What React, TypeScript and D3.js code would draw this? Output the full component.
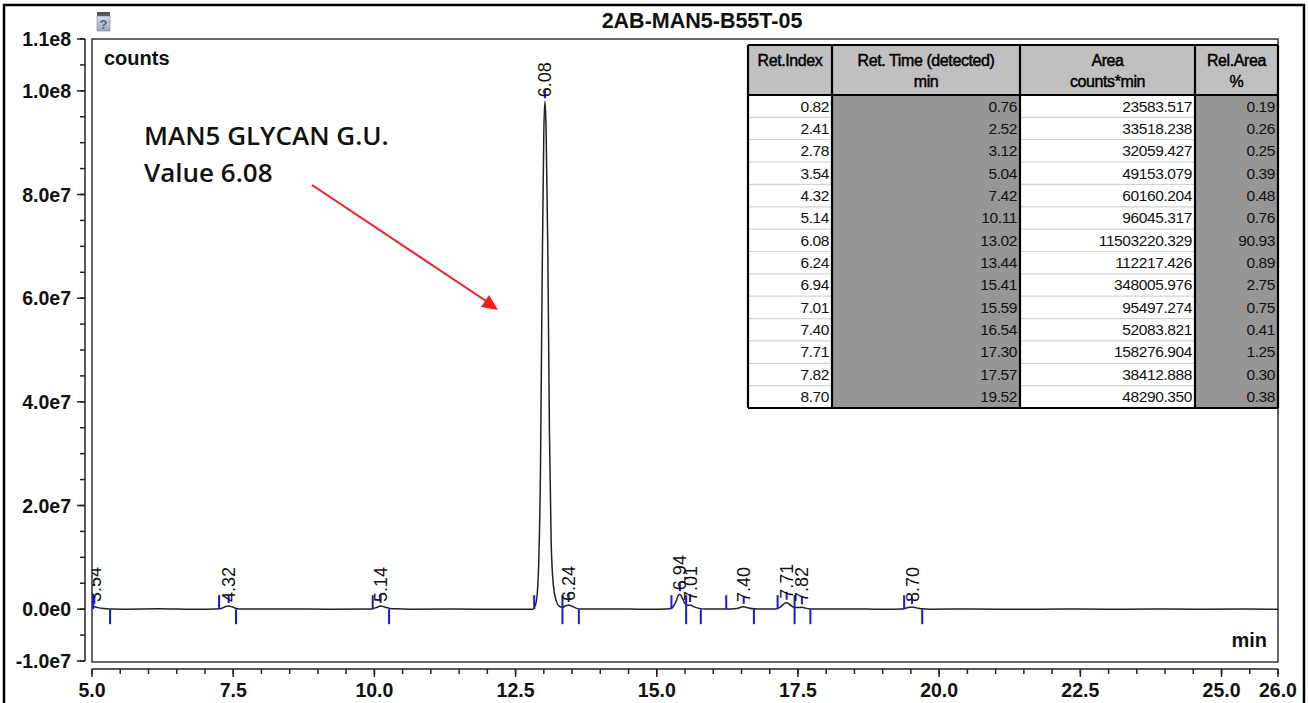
import * as d3 from 'd3';

// chromatogram window
const xDomain = [5, 26];
const yDomain = [-1e7, 1.1e8];
const xTickValues = [5.0, 7.5, 10.0, 12.5, 15.0, 17.5, 20.0, 22.5, 25.0, 26.0];
const xTickLabels = ['5.0', '7.5', '10.0', '12.5', '15.0', '17.5', '20.0', '22.5', '25.0', '26.0'];
const yTickValues = [1.1e8, 1.0e8, 8e7, 6e7, 4e7, 2e7, 0, -1e7];
const yTickLabels = ['1.1e8', '1.0e8', '8.0e7', '6.0e7', '4.0e7', '2.0e7', '0.0e0', '-1.0e7'];

// detector trace [min, counts]
const trace: [number, number][] = [
    [5.00, 4.0e5], [5.04, 4.5e5], [5.10, 3.0e5], [5.20, 1.2e5], [5.32, 3e4], [5.60, 0],
    [6.20, 6e4], [6.80, -4e4], [7.20, 2e4], [7.30, 1.8e5], [7.37, 5.0e5], [7.42, 6.0e5],
    [7.48, 4.5e5], [7.56, 1.2e5], [7.66, 1e4], [8.40, 5e4], [9.20, -3e4], [9.95, 2e4],
    [10.03, 3.0e5], [10.11, 6.0e5], [10.18, 4.2e5], [10.27, 1.5e5], [10.40, 6e4], [10.60, 0],
    [11.40, 4e4], [12.20, -2e4], [12.80, 0], [12.85, 8e5], [12.88, 2.5e6], [12.91, 9.0e6],
    [12.94, 2.6e7], [12.97, 6.3e7], [13.00, 9.2e7], [13.02, 9.8e7], [13.04, 9.3e7],
    [13.07, 7.0e7], [13.10, 3.4e7], [13.13, 1.3e7], [13.17, 4.5e6], [13.22, 1.6e6],
    [13.27, 6e5], [13.33, 3.5e5], [13.39, 6.5e5], [13.44, 8.0e5], [13.50, 5.5e5],
    [13.58, 1.5e5], [13.66, 1e4], [14.20, 5e4], [14.80, -2e4], [15.20, 3e4], [15.28, 3.5e5],
    [15.34, 1.5e6], [15.38, 2.6e6], [15.41, 2.9e6], [15.45, 2.2e6], [15.50, 1.1e6],
    [15.55, 7.5e5], [15.59, 8.0e5], [15.65, 5.0e5], [15.75, 1.5e5], [15.86, 2e4],
    [16.20, 4e4], [16.42, 1.5e5], [16.50, 4.0e5], [16.54, 4.5e5], [16.60, 3.0e5],
    [16.72, 6e4], [16.90, 2e4], [17.10, 4e4], [17.20, 5.0e5], [17.26, 1.1e6], [17.30, 1.25e6],
    [17.36, 8.5e5], [17.44, 3.0e5], [17.52, 3.0e5], [17.57, 3.5e5], [17.63, 2.0e5],
    [17.72, 5e4], [17.82, 1e4], [18.40, 5e4], [19.00, -2e4], [19.35, 3e4], [19.45, 3.0e5],
    [19.52, 4.0e5], [19.60, 2.5e5], [19.70, 6e4], [19.82, 0], [20.60, 4e4], [21.40, -3e4],
    [22.20, 3e4], [23.00, -2e4], [23.80, 3e4], [24.60, -2e4], [25.40, 2e4], [26.00, 0],
];

// integrated peaks
const peakLabels = ['3.54', '4.32', '5.14', '6.08', '6.24', '6.94', '7.01', '7.40', '7.71', '7.82', '8.70'];
const peakTimes = [5.04, 7.42, 10.11, 13.02, 13.44, 15.41, 15.59, 16.54, 17.30, 17.57, 19.52];
const peakHeights = [4.5e5, 6.0e5, 6.0e5, 9.8e7, 8.0e5, 2.9e6, 8.0e5, 4.5e5, 1.25e6, 3.5e5, 4.0e5];
const peakStarts = [5.02, 7.25, 9.97, 12.83, 13.33, 15.26, 15.52, 16.23, 17.14, 17.44, 19.38];
const peakEnds = [5.32, 7.55, 10.26, 13.33, 13.62, 15.52, 15.78, 16.72, 17.44, 17.72, 19.70];

// peak table
const tableHeaders = [['Ret.Index'], ['Ret. Time (detected)', 'min'], ['Area', 'counts*min'], ['Rel.Area', '%']];
const retIndex = ['0.82', '2.41', '2.78', '3.54', '4.32', '5.14', '6.08', '6.24', '6.94', '7.01', '7.40', '7.71', '7.82', '8.70'];
const retTime = ['0.76', '2.52', '3.12', '5.04', '7.42', '10.11', '13.02', '13.44', '15.41', '15.59', '16.54', '17.30', '17.57', '19.52'];
const areaValues = ['23583.517', '33518.238', '32059.427', '49153.079', '60160.204', '96045.317', '11503220.329', '112217.426', '348005.976', '95497.274', '52083.821', '158276.904', '38412.888', '48290.350'];
const relArea = ['0.19', '0.26', '0.25', '0.39', '0.48', '0.76', '90.93', '0.89', '2.75', '0.75', '0.41', '1.25', '0.30', '0.38'];

const W = 1309;
const H = 703;
const plot = { left: 92, top: 39, right: 1278, bottom: 662 };
const axisFont = 'Arial, "Liberation Sans", sans-serif';

export default function App() {
    const x = d3.scaleLinear().domain(xDomain).range([plot.left, plot.right]);
    const y = d3.scaleLinear().domain(yDomain).range([661, plot.top]);

    const line = d3.line<[number, number]>()
        .x(d => x(d[0]))
        .y(d => y(d[1]))
        .curve(d3.curveMonotoneX);

    const xMinor = d3.range(5, 26.001, 0.5);
    const yMinor = d3.range(-1e7, 1.1e8 + 1, 5e6);
    const xAxisY = 669;
    const yAxisX = 85;
    const base = y(0);

    // table layout
    const colEdges = [748, 832, 1020, 1195, plot.right];
    const tableTop = 45;
    const headerBottom = 95;
    const rowH = (408 - headerBottom) / retIndex.length;
    const columns = [retIndex, retTime, areaValues, relArea];
    const darkCols = [1, 3];

    return (
        <svg width={W} height={H} style={{ position: 'absolute', left: 0, top: 0, background: '#fff' }}
            fontFamily={axisFont}>
            <defs>
                <clipPath id="plot-clip">
                    <rect x={plot.left} y={plot.top} width={plot.right - plot.left} height={plot.bottom - plot.top} />
                </clipPath>
                <linearGradient id="help-grad" x1="0" y1="0" x2="0" y2="1">
                    <stop offset="0%" stopColor="#d6dde6" />
                    <stop offset="100%" stopColor="#9aaabb" />
                </linearGradient>
            </defs>

            {/* outer frame */}
            <rect x={4} y={5} width={1300} height={720} fill="none" stroke="#000" strokeWidth={2.5} />

            {/* help icon + title */}
            <rect x={97} y={12} width={13} height={5} fill="#555" />
            <rect x={97} y={16} width={13} height={15} fill="url(#help-grad)" stroke="#7a8696" strokeWidth={0.6} />
            <text x={103.5} y={29} fontSize={13} fontWeight="bold" fill="#4a6888" textAnchor="middle">?</text>
            <text x={702} y={28} fontSize={21.5} fontWeight="bold" textAnchor="middle" fill="#111">2AB-MAN5-B55T-05</text>

            {/* plot frame */}
            <rect x={plot.left} y={plot.top} width={plot.right - plot.left} height={plot.bottom - plot.top}
                fill="#fff" stroke="#333" strokeWidth={1.5} />

            {/* y axis */}
            <line x1={yAxisX} x2={yAxisX} y1={y(1.1e8)} y2={y(-1e7)} stroke="#222" strokeWidth={1.5} />
            {yMinor.map(v => (
                <line key={'ym' + v} x1={yAxisX - 5} x2={yAxisX} y1={y(v)} y2={y(v)} stroke="#222" strokeWidth={1.5} />
            ))}
            {yTickValues.map((v, i) => (
                <g key={'yt' + v}>
                    <line x1={yAxisX - 8} x2={yAxisX} y1={y(v)} y2={y(v)} stroke="#222" strokeWidth={1.5} />
                    <text x={71} y={y(v)} dy="0.36em" fontSize={19.5} fontWeight="bold" textAnchor="end" fill="#111">
                        {yTickLabels[i]}
                    </text>
                </g>
            ))}

            {/* x axis */}
            <line x1={plot.left} x2={plot.right} y1={xAxisY} y2={xAxisY} stroke="#222" strokeWidth={1.5} />
            {xMinor.map(v => (
                <line key={'xm' + v} x1={x(v)} x2={x(v)} y1={xAxisY} y2={xAxisY + 5} stroke="#222" strokeWidth={1.5} />
            ))}
            {xTickValues.map((v, i) => (
                <g key={'xt' + v}>
                    <line x1={x(v)} x2={x(v)} y1={xAxisY} y2={xAxisY + 8} stroke="#222" strokeWidth={1.5} />
                    <text x={x(v)} y={697} fontSize={19.5} fontWeight="bold" textAnchor="middle" fill="#111">
                        {xTickLabels[i]}
                    </text>
                </g>
            ))}

            <text x={104} y={65} fontSize={20} fontWeight="bold" fill="#111">counts</text>
            <text x={1267} y={647} fontSize={20} fontWeight="bold" textAnchor="end" fill="#111">min</text>

            {/* chromatogram */}
            <g clipPath="url(#plot-clip)">
                <path d={line(trace) || ''} fill="none" stroke="#222" strokeWidth={1.5} />

                {peakStarts.map((t, i) => (
                    <line key={'ps' + i} x1={x(t)} x2={x(t)} y1={base} y2={base - 14} stroke="#1515ff" strokeWidth={2} />
                ))}
                {peakEnds.map((t, i) => (
                    <line key={'pe' + i} x1={x(t)} x2={x(t)} y1={base} y2={base + 15} stroke="#1515ff" strokeWidth={2} />
                ))}
                {peakTimes.map((t, i) => (
                    <line key={'pa' + i} x1={x(t)} x2={x(t)} y1={y(peakHeights[i]) - 3} y2={y(peakHeights[i]) - 11}
                        stroke="#1515ff" strokeWidth={2} />
                ))}
                {peakTimes.map((t, i) => {
                    const px = x(t);
                    const py = Math.min(y(peakHeights[i]) - 4, 602);
                    return (
                        <text key={'pl' + i} x={px} y={py} dy="0.36em" transform={`rotate(-90 ${px} ${py})`}
                            fontSize={18} fill="#111">
                            {peakLabels[i]}
                        </text>
                    );
                })}
            </g>

            {/* annotation */}
            <g fontFamily='"Open Sans", "Noto Sans", sans-serif' fontSize={26} fontWeight={600} fill="#111">
                <text x={144} y={145}>MAN5 GLYCAN G.U.</text>
                <text x={144} y={182}>Value 6.08</text>
            </g>
            <line x1={312} y1={185} x2={486} y2={301} stroke="#ff1a1a" strokeWidth={2} />
            <polygon points="498,310 481,307 489,295" fill="#ff1a1a" />

            {/* peak table */}
            <g fontFamily={axisFont}>
                {columns.map((_, c) => (
                    <rect key={'hb' + c} x={colEdges[c]} y={tableTop} width={colEdges[c + 1] - colEdges[c]}
                        height={headerBottom - tableTop} fill="#c0c0c0" />
                ))}
                {columns.map((_, c) => (
                    <rect key={'cb' + c} x={colEdges[c]} y={headerBottom} width={colEdges[c + 1] - colEdges[c]}
                        height={rowH * retIndex.length} fill={darkCols.includes(c) ? '#969696' : '#fff'} />
                ))}
                {retIndex.slice(1).map((_, r) => (
                    [0, 2].map(c => (
                        <line key={`rs${r}-${c}`} x1={colEdges[c]} x2={colEdges[c + 1]}
                            y1={headerBottom + rowH * (r + 1)} y2={headerBottom + rowH * (r + 1)}
                            stroke="#d4d4d4" strokeWidth={1.2} />
                    ))
                ))}
                {tableHeaders.map((lines, c) => (
                    <g key={'th' + c}>
                        {lines.map((t, k) => (
                            <text key={k} x={(colEdges[c] + colEdges[c + 1]) / 2} y={66 + k * 21}
                                fontSize={16} letterSpacing={-0.4} textAnchor="middle" fill="#000"
                                stroke="#000" strokeWidth={0.45}>
                                {t}
                            </text>
                        ))}
                    </g>
                ))}
                {columns.map((col, c) => col.map((v, r) => (
                    <text key={`td${c}-${r}`} x={colEdges[c + 1] - 3} y={headerBottom + rowH * r + 16.5}
                        fontSize={15.5} letterSpacing={-0.4} textAnchor="end" fill="#111">
                        {v}
                    </text>
                )))}
                {colEdges.map((e, i) => (
                    <line key={'cv' + i} x1={e} x2={e} y1={tableTop} y2={408} stroke="#000" strokeWidth={2.2} />
                ))}
                <line x1={colEdges[0]} x2={plot.right} y1={tableTop} y2={tableTop} stroke="#000" strokeWidth={2.2} />
                <line x1={colEdges[0]} x2={plot.right} y1={headerBottom} y2={headerBottom} stroke="#000" strokeWidth={2.2} />
                <line x1={colEdges[0]} x2={plot.right} y1={408} y2={408} stroke="#000" strokeWidth={2.2} />
            </g>
        </svg>
    );
}
